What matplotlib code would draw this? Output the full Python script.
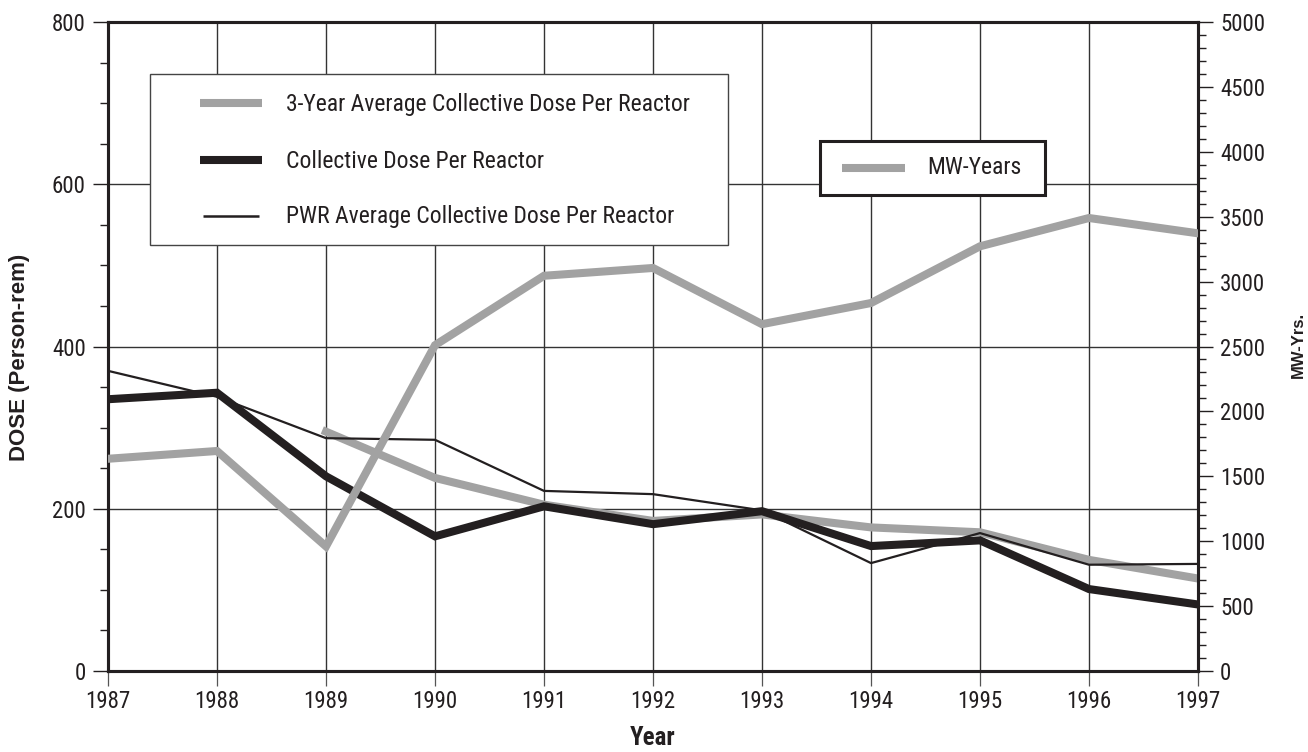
import matplotlib
matplotlib.use('Agg')
import matplotlib.pyplot as plt
from matplotlib import font_manager as fm
from matplotlib.patches import Rectangle
from matplotlib.lines import Line2D
from matplotlib.ticker import MultipleLocator

# ---- data ----
years = [1987, 1988, 1989, 1990, 1991, 1992, 1993, 1994, 1995, 1996, 1997]
three_year_years = [1989, 1990, 1991, 1992, 1993, 1994, 1995, 1996, 1997]
three_year_avg = [295, 238, 205, 185, 193, 177, 171, 137, 114]
collective_dose = [335, 343, 240, 166, 203, 181, 197, 154, 161, 101, 82]
pwr_avg = [370, 338, 287, 285, 222, 218, 198, 133, 170, 131, 132]
mw_years = [1635, 1695, 960, 2510, 3045, 3105, 2672, 2835, 3272, 3490, 3372]

legend_labels = ["3-Year Average Collective Dose Per Reactor",
                 "Collective Dose Per Reactor",
                 "PWR Average Collective Dose Per Reactor"]
mw_label = "MW-Years"

GRAY = '#a2a2a2'
BLACK = '#231f20'

installed = set(f.name for f in fm.fontManager.ttflist)
narrow_pref = ['Nimbus Sans Narrow', 'Liberation Sans Narrow', 'Arial Narrow',
               'Helvetica Narrow', 'Roboto Condensed', 'PT Sans Narrow',
               'Archivo Narrow', 'Barlow Condensed']
NARROW_FAM = next((n for n in narrow_pref if n in installed), 'DejaVu Sans')
NARROW = [NARROW_FAM, 'DejaVu Sans']
SANS = ['Liberation Sans', 'DejaVu Sans']

W, H = 1308, 752
fig = plt.figure(figsize=(W / 100, H / 100), dpi=100)

def fx(x):
    return x / W

def fy(y):
    return 1 - y / H

ax1 = fig.add_axes([fx(108), fy(671), (1198 - 108) / W, (671 - 22) / H])
ax2 = ax1.twinx()

# lines
ax1.plot(three_year_years, three_year_avg, color=GRAY, lw=5.8, solid_joinstyle='miter', zorder=3)
ax1.plot(years, collective_dose, color=BLACK, lw=5.8, solid_joinstyle='miter', zorder=4)
ax1.plot(years, pwr_avg, color=BLACK, lw=1.6, zorder=5)
ax2.plot(years, mw_years, color=GRAY, lw=5.8, solid_joinstyle='miter', zorder=3)

ax1.set_xlim(1987, 1997)
ax1.set_ylim(0, 800)
ax2.set_ylim(0, 5000)

ax1.set_xticks(years)
ax1.set_xticklabels([str(y) for y in years])
ax1.yaxis.set_major_locator(MultipleLocator(200))
ax1.yaxis.set_minor_locator(MultipleLocator(50))
ax2.yaxis.set_major_locator(MultipleLocator(500))
ax2.yaxis.set_minor_locator(MultipleLocator(100))

for lab in ax1.get_xticklabels() + ax1.get_yticklabels() + ax2.get_yticklabels():
    lab.set_fontfamily(NARROW)
    lab.set_fontsize(16.5)
    lab.set_color(BLACK)

ax1.tick_params(axis='x', which='major', direction='out', length=11, width=0.9, color='#555555', pad=3)
ax1.tick_params(axis='y', which='major', direction='out', length=11, width=1.0, color=BLACK, pad=5)
ax1.tick_params(axis='y', which='minor', direction='out', length=5.5, width=1.0, color=BLACK)
ax2.tick_params(axis='y', which='major', direction='out', length=11, width=1.0, color=BLACK, pad=5)
ax2.tick_params(axis='y', which='minor', direction='out', length=5.5, width=1.0, color=BLACK)

ax1.grid(True, which='major', axis='both', color='#333333', lw=1.0, zorder=0)
ax1.set_axisbelow(True)

for ax in (ax1, ax2):
    for s in ax.spines.values():
        s.set_linewidth(2.2)
        s.set_color(BLACK)

# axis labels
fig.text(fx(20), fy(357), "DOSE (Person-rem)", rotation=90, ha='center', va='center',
         fontfamily=SANS, fontweight='bold', fontsize=16, color=BLACK)
fig.text(fx(1298), fy(345), "MW-Yrs.", rotation=90, ha='center', va='center',
         fontfamily=SANS, fontweight='bold', fontsize=12, color=BLACK)
fig.text(fx(653), fy(738), "Year", ha='center', va='center',
         fontfamily=NARROW, fontweight='bold', fontsize=18, color=BLACK)

# legend 1 (drawn as figure artists)
fig.add_artist(Rectangle((fx(150), fy(245)), (728 - 150) / W, (245 - 74) / H,
                         transform=fig.transFigure, facecolor='white', edgecolor='#444444',
                         lw=1.0, zorder=10))
leg_rows = [103, 160, 216]
leg_styles = [(GRAY, 5.8), (BLACK, 5.8), (BLACK, 1.8)]
for (c, lw), yy, lab in zip(leg_styles, leg_rows, legend_labels):
    x0, x1 = (200, 262) if lw > 3 else (203, 259)
    fig.add_artist(Line2D([fx(x0), fx(x1)], [fy(yy), fy(yy)], transform=fig.transFigure,
                          color=c, lw=lw, solid_capstyle='butt', zorder=11))
    fig.text(fx(286), fy(yy + 1), lab, ha='left', va='center', fontfamily=NARROW,
             fontsize=17, color=BLACK, zorder=12)

# legend 2
fig.add_artist(Rectangle((fx(820), fy(195)), (1045 - 820) / W, (195 - 141) / H,
                         transform=fig.transFigure, facecolor='white', edgecolor=BLACK,
                         lw=2.2, zorder=10))
fig.add_artist(Line2D([fx(842), fx(905)], [fy(168), fy(168)], transform=fig.transFigure,
                      color=GRAY, lw=5.8, solid_capstyle='butt', zorder=11))
fig.text(fx(927), fy(168), mw_label, ha='left', va='center', fontfamily=NARROW,
         fontsize=17, color=BLACK, zorder=12)

fig.savefig('out.png', dpi=100)
